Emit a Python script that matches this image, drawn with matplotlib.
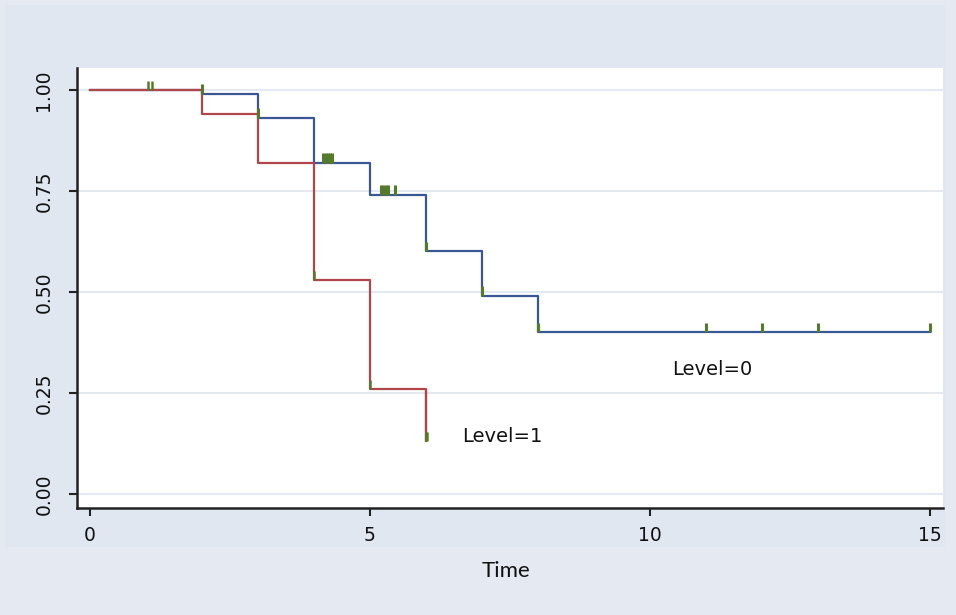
import matplotlib.pyplot as plt
from matplotlib.patches import Rectangle

# step curves (value holds from time[i] to time[i+1])
time_lvl0 = [0, 2, 3, 4, 5, 6, 7, 8, 15]
surv_lvl0 = [1.00, 0.99, 0.93, 0.82, 0.74, 0.60, 0.49, 0.40, 0.40]
time_lvl1 = [0, 2, 3, 4, 5, 6]
surv_lvl1 = [1.00, 0.94, 0.82, 0.53, 0.26, 0.13]

# censoring ticks
cens_t0 = [2, 3, 4.17, 4.21, 4.25, 4.29, 4.32, 5.2, 5.24, 5.28, 5.33, 5.45, 6, 7, 8, 11, 12, 13, 15]
cens_s0 = [0.99, 0.93, 0.82, 0.82, 0.82, 0.82, 0.82, 0.74, 0.74, 0.74, 0.74, 0.74,
           0.60, 0.49, 0.40, 0.40, 0.40, 0.40, 0.40]
cens_t1 = [1.03, 1.1, 4, 5, 6, 6.02]
cens_s1 = [1.00, 1.00, 0.53, 0.26, 0.13, 0.13]

xticks = [0, 5, 10, 15]
yticks = [0.0, 0.25, 0.5, 0.75, 1.0]
ylabels = ["0.00", "0.25", "0.50", "0.75", "1.00"]

blue = "#3a5795"
red = "#b0454a"
green = "#557a2c"

fig = plt.figure(figsize=(9.56, 6.15), dpi=100, facecolor="#e5e9f1")
fig.patches.append(Rectangle((5 / 956, (615 - 547) / 615), 940 / 956, 542 / 615,
                             transform=fig.transFigure, facecolor="#e0e7f1",
                             edgecolor="none", zorder=-1))
ax = fig.add_axes([77 / 956, 107 / 615, 866 / 956, 440 / 615])
ax.set_zorder(2)
ax.set_facecolor("white")

for y in yticks:
    ax.axhline(y, color="#e3e8f1", linewidth=1.5, zorder=1)

ax.step(time_lvl0, surv_lvl0, where="post", color=blue, linewidth=1.6, zorder=3)
ax.step(time_lvl1, surv_lvl1, where="post", color=red, linewidth=1.6, zorder=4)
# final drop of level 1 at t=6
ax.vlines(time_lvl1[-1], surv_lvl1[-1], surv_lvl1[-2], color=red, linewidth=1.6, zorder=4)

ax.vlines(cens_t0, cens_s0, [s + 0.024 for s in cens_s0], color=green, linewidth=2.2, zorder=5)
ax.vlines(cens_t1, cens_s1, [s + 0.022 for s in cens_s1], color=green, linewidth=1.8, zorder=5)

ax.text(10.4, 0.307, "Level=0", fontsize=14, va="center", ha="left", color="#111111")
ax.text(6.65, 0.141, "Level=1", fontsize=14, va="center", ha="left", color="#111111")

ax.set_xlim(-0.23, 15.23)
ax.set_ylim(-0.035, 1.054)
ax.set_xticks(xticks)
ax.set_yticks(yticks)
ax.set_yticklabels(ylabels, rotation=90, va="center")
ax.tick_params(axis="both", direction="out", length=6, width=1.5, color="#222222",
               labelsize=13.5, labelcolor="#111111")
ax.tick_params(axis="y", pad=11)
ax.tick_params(axis="x", pad=7)

for s in ["top", "right"]:
    ax.spines[s].set_visible(False)
for s in ["left", "bottom"]:
    ax.spines[s].set_linewidth(1.8)
    ax.spines[s].set_color("#222222")

fig.text(506 / 956, 1 - 571 / 615, "Time", fontsize=16, family="Lato",
         ha="center", va="center", color="#111111")

fig.savefig("out.png", dpi=100, facecolor=fig.get_facecolor())
